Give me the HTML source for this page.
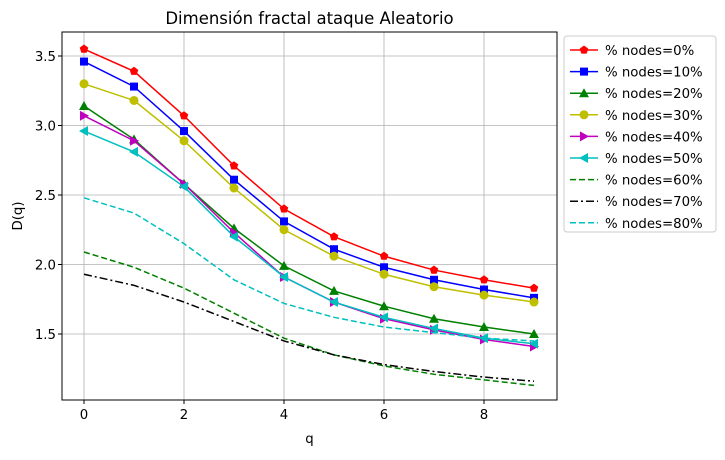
<!DOCTYPE html>
<html><head><meta charset="utf-8"><style>
body{margin:0;background:#fff;}
svg text{font-family:"DejaVu Sans","Liberation Sans",sans-serif;}
</style></head><body>
<svg id="chart" width="725" height="455" xmlns="http://www.w3.org/2000/svg"></svg>
<script>
const qValues=[0,1,2,3,4,5,6,7,8,9];
const s0=[3.55,3.39,3.07,2.71,2.40,2.20,2.06,1.96,1.89,1.83];
const s10=[3.46,3.28,2.96,2.61,2.31,2.11,1.98,1.89,1.82,1.76];
const s20=[3.14,2.90,2.58,2.26,1.99,1.81,1.70,1.61,1.55,1.50];
const s30=[3.30,3.18,2.89,2.55,2.25,2.06,1.93,1.84,1.78,1.73];
const s40=[3.07,2.89,2.58,2.23,1.91,1.73,1.61,1.53,1.46,1.41];
const s50=[2.96,2.81,2.56,2.20,1.91,1.73,1.62,1.54,1.47,1.43];
const s60=[2.09,1.98,1.83,1.65,1.47,1.35,1.27,1.21,1.17,1.13];
const s70=[1.93,1.85,1.73,1.59,1.45,1.35,1.28,1.23,1.19,1.16];
const s80=[2.48,2.37,2.15,1.89,1.72,1.62,1.55,1.51,1.47,1.45];
const xTicks=[0,2,4,6,8];
const yTicks=[1.5,2.0,2.5,3.0,3.5];
const seriesNames=["% nodes=0%","% nodes=10%","% nodes=20%","% nodes=30%","% nodes=40%","% nodes=50%","% nodes=60%","% nodes=70%","% nodes=80%"];
const seriesData=[s0,s10,s20,s30,s40,s50,s60,s70,s80];
const colors=["#ff0000","#0000ff","#008000","#bfbf00","#bf00bf","#00bfbf","#008000","#000000","#00bfbf"];
const markers=["pent","square","tri","circle","right","left",null,null,null];
const dashes=[null,null,null,null,null,null,"6,3","8,3,2,3","6,3"];
const L=62,R=557,T=32,B=400;
const X=v=>84+v*50;
const Y=v=>56+(3.5-v)*139;
const svg=document.getElementById('chart');
const NS="http://www.w3.org/2000/svg";
function mk(tag,attrs,parent){const e=document.createElementNS(NS,tag);for(const k in attrs)e.setAttribute(k,attrs[k]);(parent||svg).appendChild(e);return e;}
function marker(type,cx,cy,c,g){
  const r=4.5;let el;
  if(type==="circle")el=mk('circle',{cx,cy,r:4.5,fill:c},g);
  else if(type==="square")el=mk('rect',{x:cx-4,y:cy-4,width:8,height:8,fill:c},g);
  else{let pts=[];
    if(type==="pent"){for(let i=0;i<5;i++){const a=-Math.PI/2+i*2*Math.PI/5;pts.push([cx+r*Math.cos(a),cy+r*Math.sin(a)]);}}
    else if(type==="tri")pts=[[cx,cy-5],[cx-5,cy+4],[cx+5,cy+4]];
    else if(type==="right")pts=[[cx+5,cy],[cx-4,cy-5],[cx-4,cy+5]];
    else if(type==="left")pts=[[cx-5,cy],[cx+4,cy-5],[cx+4,cy+5]];
    el=mk('polygon',{points:pts.map(p=>p.join(',')).join(' '),fill:c},g);}
  
  
}
xTicks.forEach(t=>{const l=mk('line',{x1:X(t),x2:X(t),y1:T,y2:B,stroke:'#b0b0b0','stroke-width':0.8});

const tk=mk('line',{x1:X(t),x2:X(t),y1:B,y2:B+4,stroke:'#000'});
const tx=mk('text',{x:X(t),y:B+19,'text-anchor':'middle','font-size':13.3});tx.textContent=t;});
yTicks.forEach(t=>{const l=mk('line',{x1:L,x2:R,y1:Y(t),y2:Y(t),stroke:'#b0b0b0','stroke-width':0.8});

const tk=mk('line',{x1:L-4,x2:L,y1:Y(t),y2:Y(t),stroke:'#000'});
const tx=mk('text',{x:L-6,y:Y(t)+5,'text-anchor':'end','font-size':13.3});tx.textContent=t.toFixed(1);});
seriesData.forEach((d,i)=>{
  const g=mk('g',{});
  const a={points:d.map((v,j)=>X(qValues[j])+','+Y(v)).join(' '),fill:'none',stroke:colors[i],'stroke-width':1.5};
  if(dashes[i])a['stroke-dasharray']=dashes[i];
  const pl=mk('polyline',a,g);
  if(markers[i])d.forEach((v,j)=>marker(markers[i],X(qValues[j]),Y(v),colors[i],g));
});
const fr=mk('rect',{x:L,y:T,width:R-L,height:B-T,fill:'none',stroke:'#000','stroke-width':1});
const ti=mk('text',{x:(L+R)/2,y:24,'text-anchor':'middle','font-size':16.5});ti.textContent='Dimensión fractal ataque Aleatorio';
const xl=mk('text',{x:(L+R)/2,y:443,'text-anchor':'middle','font-size':13.3});xl.textContent='q';
const yl=mk('text',{x:22,y:216,'text-anchor':'middle','font-size':13.3,transform:'rotate(-90 22 216)'});yl.textContent='D(q)';
const lg=mk('g',{});
mk('rect',{x:564,y:36,width:152,height:196,rx:3,fill:'#fff',stroke:'#ccc'},lg);
seriesNames.forEach((n,i)=>{
  const y=50+i*21.6;
  const e=mk('g',{},lg);
  const a={x1:570,x2:598,y1:y,y2:y,stroke:colors[i],'stroke-width':1.5};if(dashes[i])a['stroke-dasharray']=dashes[i];
  mk('line',a,e);
  if(markers[i])marker(markers[i],584,y,colors[i],e);
  const t=mk('text',{x:605,y:y+5,'font-size':13.3},e);t.textContent=n;
});
</script>
</body></html>
